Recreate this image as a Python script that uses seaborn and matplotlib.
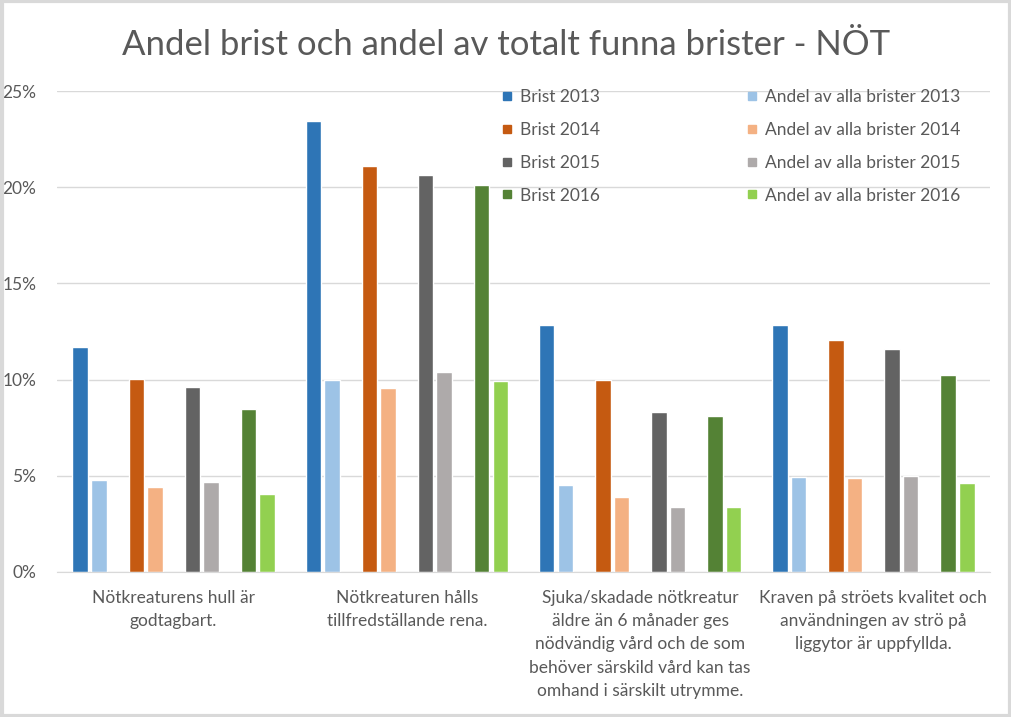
import pandas as pd
import matplotlib
matplotlib.use("Agg")
import matplotlib.pyplot as plt
from matplotlib.lines import Line2D
from matplotlib.patches import Rectangle
from matplotlib.ticker import PercentFormatter
import seaborn as sns

# -----------------------------
# Data
# -----------------------------
categories = [
    "Nötkreaturens hull är\ngodtagbart.",
    "Nötkreaturen hålls\ntillfredställande rena.",
    "Sjuka/skadade nötkreatur\näldre än 6 månader ges\nnödvändig vård och de som\nbehöver särskild vård kan tas\nomhand i särskilt utrymme.",
    "Kraven på ströets kvalitet och\nanvändningen av strö på\nliggytor är uppfyllda.",
]

series_names = [
    "Brist 2013", "Andel av alla brister 2013",
    "Brist 2014", "Andel av alla brister 2014",
    "Brist 2015", "Andel av alla brister 2015",
    "Brist 2016", "Andel av alla brister 2016",
]

brist_2013 = [11.7, 23.45, 12.85, 12.85]
andel_2013 = [4.8, 10.0, 4.5, 4.95]
brist_2014 = [10.05, 21.1, 10.0, 12.05]
andel_2014 = [4.4, 9.55, 3.9, 4.9]
brist_2015 = [9.6, 20.65, 8.3, 11.6]
andel_2015 = [4.7, 10.4, 3.4, 5.0]
brist_2016 = [8.45, 20.1, 8.1, 10.25]
andel_2016 = [4.05, 9.95, 3.4, 4.65]

colors = ["#2E75B6", "#9DC3E6", "#C55A11", "#F4B183",
          "#636363", "#AEAAAA", "#548235", "#92D050"]

title = "Andel brist och andel av totalt funna brister - NÖT"

# -----------------------------
# Long-form table
# -----------------------------
values = [brist_2013, andel_2013, brist_2014, andel_2014,
          brist_2015, andel_2015, brist_2016, andel_2016]
rows = []
for name, vals in zip(series_names, values):
    for cat, v in zip(categories, vals):
        rows.append({"kategori": cat, "serie": name, "andel": v / 100})
df = pd.DataFrame(rows)

# empty hue slots give the gap between the year pairs
spacers = [" ", "  ", "   "]
hue_order = (series_names[0:2] + [spacers[0]] + series_names[2:4] + [spacers[1]]
             + series_names[4:6] + [spacers[2]] + series_names[6:8])
palette = dict(zip(series_names, colors))
for s in spacers:
    palette[s] = "white"

# -----------------------------
# Plot
# -----------------------------
sns.set_style("white")
plt.rcParams["font.family"] = ["Lato", "DejaVu Sans"]
text_color = "#595959"
grid_color = "#D9D9D9"

fig = plt.figure(figsize=(10.12, 7.17), dpi=100)
ax = fig.add_axes([57 / 1012, 1 - 572 / 717, 933 / 1012, 481 / 717])

sns.barplot(data=df, x="kategori", y="andel", hue="serie", order=categories,
            hue_order=hue_order, palette=palette, width=0.881, gap=0.17,
            saturation=1, errorbar=None, legend=False, ax=ax)

ax.set_xlim(-0.5, 3.5)
ax.set_ylim(0, 0.25)
ax.set_yticks([0, 0.05, 0.10, 0.15, 0.20, 0.25])
ax.yaxis.set_major_formatter(PercentFormatter(1.0, decimals=0))
ax.grid(axis="y", color=grid_color, linewidth=1)
ax.set_axisbelow(True)
for side in ["top", "right", "left"]:
    ax.spines[side].set_visible(False)
ax.spines["bottom"].set_color(grid_color)
ax.tick_params(axis="both", length=0, colors=text_color, labelsize=12.5)
ax.tick_params(axis="y", pad=15)
ax.tick_params(axis="x", pad=13)
for lbl in ax.get_xticklabels():
    lbl.set_linespacing(1.55)
ax.set_xlabel("")
ax.set_ylabel("")

fig.suptitle(title, x=0.5, y=1 - 29 / 717, va="top", fontsize=25, color=text_color)

# Legend: two columns (Brist / Andel)
def handles_for(names):
    return [Line2D([0], [0], marker="s", linestyle="", markersize=6,
                   markerfacecolor=palette[n], markeredgecolor=palette[n])
            for n in names]

leg_kw = dict(frameon=False, fontsize=12.5, labelcolor=text_color,
              handlelength=0.5, handletextpad=0.5, labelspacing=0.97,
              borderpad=0, borderaxespad=0, loc="upper left")
brist_names = series_names[0::2]
andel_names = series_names[1::2]
fig.legend(handles_for(brist_names), brist_names,
           bbox_to_anchor=(503 / 1012, 1 - 89 / 717), **leg_kw)
fig.legend(handles_for(andel_names), andel_names,
           bbox_to_anchor=(748 / 1012, 1 - 89 / 717), **leg_kw)

# light frame round the whole chart
fig.patches.append(Rectangle((0.0015, 0.002), 0.997, 0.996, transform=fig.transFigure,
                             fill=False, edgecolor=grid_color, linewidth=3))

fig.savefig("out.png", dpi=100)
